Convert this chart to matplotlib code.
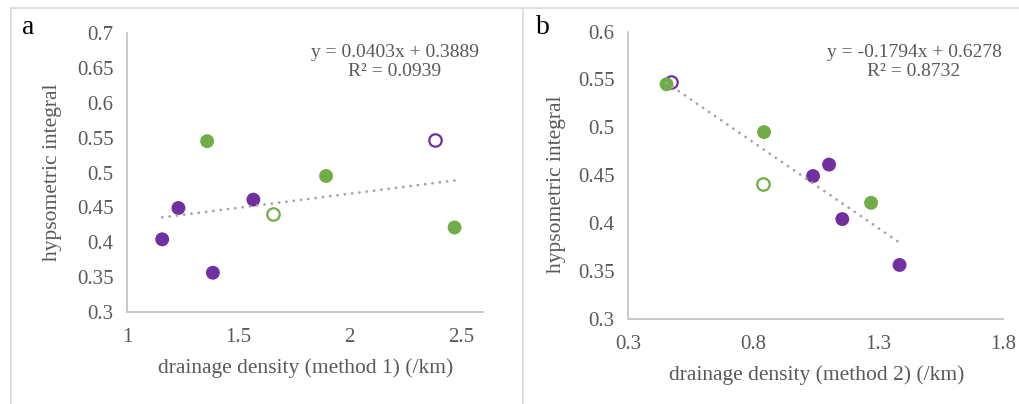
import matplotlib
matplotlib.use("Agg")
import matplotlib.pyplot as plt
from matplotlib.lines import Line2D
import numpy as np

# ---- data ----
hi = [0.404, 0.449, 0.545, 0.356, 0.461, 0.441, 0.495, 0.547, 0.421]
dd_method1 = [1.157, 1.230, 1.359, 1.385, 1.567, 1.655, 1.894, 2.383, 2.472]
dd_method2 = [1.156, 1.039, 0.453, 1.385, 1.103, 0.840, 0.843, 0.471, 1.271]
group = ["purple", "purple", "green", "purple", "purple", "green", "green", "purple", "green"]
filled = [True, True, True, True, True, False, True, False, True]

fit1 = (0.0403, 0.3889)
fit1_r2 = 0.0939
fit2 = (-0.1794, 0.6278)
fit2_r2 = 0.8732

xticks1 = [1, 1.5, 2, 2.5]
yticks1 = [0.3, 0.35, 0.4, 0.45, 0.5, 0.55, 0.6, 0.65, 0.7]
xticks2 = [0.3, 0.8, 1.3, 1.8]
yticks2 = [0.3, 0.35, 0.4, 0.45, 0.5, 0.55, 0.6]

colors = {"purple": "#7030A0", "green": "#70AD47"}
GRAY_TXT = "#595959"
SPINE = "#BFBFBF"

plt.rcParams['font.family'] = ['Liberation Serif', 'DejaVu Serif']

W, H = 1020, 404
fig = plt.figure(figsize=(W / 100, H / 100), dpi=100)

def fx(px):
    return px / W

def fy(py):
    return 1 - py / H

def draw_panel(rect, xs, fit, r2, xlim, ylim, xticks, yticks, eq_xy, eq_sign_fmt):
    ax = fig.add_axes(rect)
    for g in ["purple", "green"]:
        for x, y, gg, f in zip(xs, hi, group, filled):
            if gg != g:
                continue
            c = colors[g]
            if f:
                ax.scatter([x], [y], s=100, color=c, edgecolors='none', zorder=3)
            else:
                ax.scatter([x], [y], s=80, facecolors='white', edgecolors=c, linewidths=1.6, zorder=3)
    xr = np.array([min(xs), max(xs)])
    ax.plot(xr, fit[0] * xr + fit[1], color="#A5A5A5", lw=2.0,
            linestyle=(0, (0.05, 2.6)), dash_capstyle='round', zorder=4)
    ax.set_xlim(*xlim)
    ax.set_ylim(*ylim)
    ax.set_xticks(xticks)
    ax.set_yticks(yticks)
    ax.set_xticklabels([f"{t:g}" for t in xticks])
    ax.set_yticklabels([f"{t:g}" for t in yticks])
    ax.tick_params(length=0, labelsize=15, colors=GRAY_TXT, pad=10)
    ax.tick_params(axis='x', pad=12)
    for s in ["top", "right"]:
        ax.spines[s].set_visible(False)
    for s in ["left", "bottom"]:
        ax.spines[s].set_color(SPINE)
        ax.spines[s].set_linewidth(1.2)
    ax.patch.set_alpha(0)
    eq = eq_sign_fmt.format(a=fit[0], b=fit[1]) + "\n" + f"R² = {r2:.4f}"
    fig.text(fx(eq_xy[0]), fy(eq_xy[1]), eq, ha='center', va='center',
             fontsize=14, color=GRAY_TXT, linespacing=1.2)
    return ax

# panel a
ax1 = draw_panel([fx(127.3), fy(311.7), fx(483) - fx(127.3), fy(33.3) - fy(311.7)],
                 dd_method1, fit1, fit1_r2, (1, 2.6), (0.3, 0.7), xticks1, yticks1,
                 (395, 62), "y = {a:.4f}x + {b:.4f}")
# panel b
ax2 = draw_panel([fx(628.3), fy(318.5), fx(1003.3) - fx(628.3), fy(31.7) - fy(318.5)],
                 dd_method2, fit2, fit2_r2, (0.3, 1.8), (0.3, 0.6), xticks2, yticks2,
                 (914, 62), "y = {a:.4f}x + {b:.4f}")

# axis titles
fig.text(fx(53), fy(172), "hypsometric integral", rotation=90, ha='center', va='center',
         fontsize=15.5, color=GRAY_TXT)
fig.text(fx(557), fy(184), "hypsometric integral", rotation=90, ha='center', va='center',
         fontsize=15.5, color=GRAY_TXT)
fig.text(fx(306), fy(368), "drainage density (method 1) (/km)", ha='center', va='center',
         fontsize=15.5, color=GRAY_TXT)
fig.text(fx(817), fy(375), "drainage density (method 2) (/km)", ha='center', va='center',
         fontsize=15.5, color=GRAY_TXT)

# panel letters
fig.text(fx(28), fy(27), "a", ha='center', va='center', fontsize=20, color='black')
fig.text(fx(543), fy(28), "b", ha='center', va='center', fontsize=20, color='black')

# panel borders
BORDER = "#D9D9D9"
fig.add_artist(Line2D([fx(11), 1], [fy(8), fy(8)], color=BORDER, lw=1.2))
fig.add_artist(Line2D([fx(11), fx(11)], [fy(8), 0], color=BORDER, lw=1.2))
fig.add_artist(Line2D([fx(523), fx(523)], [fy(8), 0], color=BORDER, lw=1.2))

fig.savefig("out.png", dpi=100)
